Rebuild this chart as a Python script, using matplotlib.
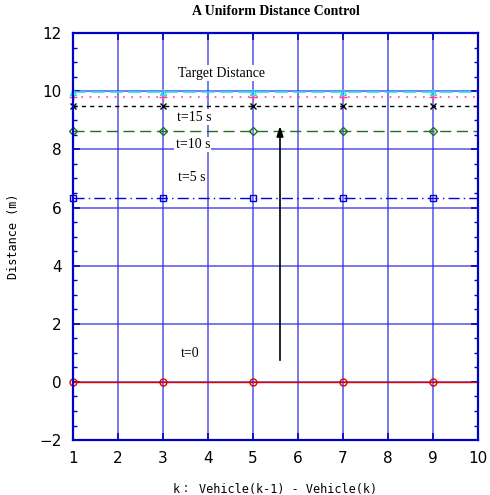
import numpy as np
import matplotlib
matplotlib.use("Agg")
import matplotlib.pyplot as plt
from matplotlib.ticker import MultipleLocator

# datos: distancia entre vehiculos k-1 y k en distintos instantes
k = [1, 2, 3, 4, 5, 6, 7, 8, 9, 10]
d_t0 = [0.0, 0.0, 0.0, 0.0, 0.0, 0.0, 0.0, 0.0, 0.0, 0.0]
d_t5 = [6.32, 6.32, 6.32, 6.32, 6.32, 6.32, 6.32, 6.32, 6.32, 6.32]
d_t10 = [8.65, 8.65, 8.65, 8.65, 8.65, 8.65, 8.65, 8.65, 8.65, 8.65]
d_t15 = [9.50, 9.50, 9.50, 9.50, 9.50, 9.50, 9.50, 9.50, 9.50, 9.50]
d_t20 = [9.82, 9.82, 9.82, 9.82, 9.82, 9.82, 9.82, 9.82, 9.82, 9.82]
d_target = [9.98, 9.98, 9.98, 9.98, 9.98, 9.98, 9.98, 9.98, 9.98, 9.98]

serif = "Liberation Serif"
mono = ["DejaVu Sans Mono", "Noto Sans CJK JP"]
tickfont = ["Liberation Sans Narrow", "DejaVu Sans"]
azul = "#0000c8"
caja = dict(facecolor="white", edgecolor="none", pad=1)

fig = plt.figure(figsize=(4.9, 4.95), dpi=100)
ax = fig.add_axes([0.149, 0.111, 0.8265, 0.822])

ax.grid(True, color="#3030e0", alpha=0.7, linewidth=1.3, linestyle="-")
ax.set_axisbelow(True)

ax.plot(k, d_t0, color="#e00000", lw=1.0, marker="o", mfc="none", ms=5,
        markevery=2, clip_on=False)
ax.plot(k, d_t5, color="#0000e0", lw=1.0, ls=(0, (8, 3, 1, 3)), marker="s",
        mfc="none", ms=5, markevery=2, clip_on=False)
ax.plot(k, d_t10, color="#207020", lw=1.0, ls=(0, (8, 4)), marker="D",
        mfc="none", ms=4, markevery=2, clip_on=False)
ax.plot(k, d_t15, color="black", lw=1.0, ls=(0, (3, 3)), marker="x", ms=5,
        markevery=2, clip_on=False)
ax.plot(k, d_t20, color="#ff40a0", lw=1.2, ls=(0, (1, 4)), marker="+", ms=6,
        markevery=2, clip_on=False)
ax.plot(k, d_target, color="#20e0f0", lw=1.2, ls=(0, (8, 3)), marker="^",
        mfc="none", ms=5, markevery=2, clip_on=False)

ax.annotate("", xy=(5.6, 8.9), xytext=(5.6, 0.65),
            arrowprops=dict(arrowstyle="-|>,head_length=0.6,head_width=0.2",
                            color="black", lw=1.2, mutation_scale=10))

ax.text(3.33, 10.62, "Target Distance", family=serif, fontsize=10, va="center", bbox=caja)
ax.text(3.3, 9.11, "t=15 s", family=serif, fontsize=10, va="center", bbox=caja)
ax.text(3.28, 8.17, "t=10 s", family=serif, fontsize=10, va="center", bbox=caja)
ax.text(3.33, 7.05, "t=5 s", family=serif, fontsize=10, va="center", bbox=caja)
ax.text(3.4, 0.99, "t=0", family=serif, fontsize=10, va="center", bbox=caja)

ax.set_xlim(1, 10)
ax.set_ylim(-2, 12)
ax.xaxis.set_major_locator(MultipleLocator(1))
ax.yaxis.set_major_locator(MultipleLocator(2))
ax.yaxis.set_minor_locator(MultipleLocator(0.5))
ax.tick_params(which="both", direction="in", top=True, right=True, color=azul)
ax.tick_params(which="major", length=5, width=1.2, pad=8)
ax.tick_params(which="minor", length=3, width=1.0)
for lab in ax.get_xticklabels() + ax.get_yticklabels():
    lab.set_family(tickfont)
    lab.set_fontsize(11)
for s in ax.spines.values():
    s.set_color(azul)
    s.set_linewidth(1.6)

ax.set_xlabel("k\uff1a Vehicle(k-1) - Vehicle(k)", family=mono, fontsize=8.5, labelpad=12)
ax.set_ylabel("Distance (m)", family=mono, fontsize=8.5, labelpad=14)
ax.set_title("A Uniform Distance Control", family=serif, fontweight="bold",
             fontsize=10, pad=13)

fig.savefig("out.png", dpi=100)
